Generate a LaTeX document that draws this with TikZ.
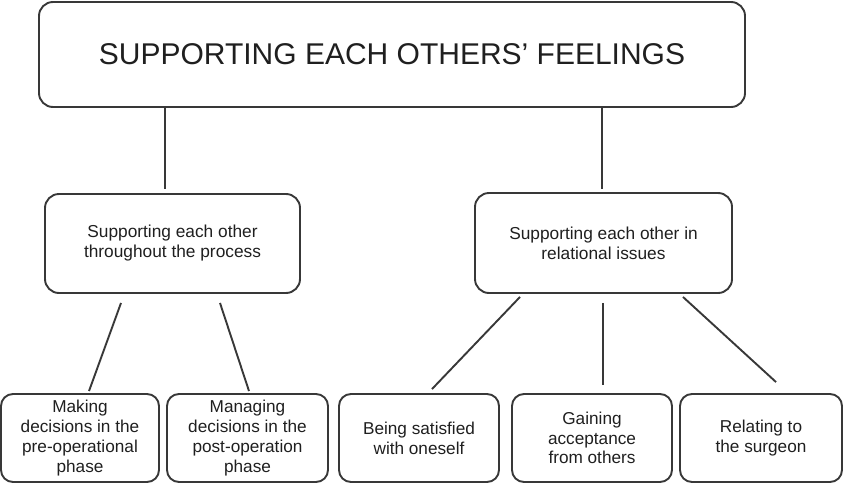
\documentclass[tikz,border=0pt]{standalone}
\usepackage{fontspec}
\setmainfont{Liberation Sans}
\begin{document}
\begin{tikzpicture}[x=1pt,y=-1pt,
  box/.style={draw=black!78, line width=1.9pt, rounded corners=14pt, inner sep=0pt, align=center, text=black!88},
  toptxt/.style={font=\fontsize{30}{34}\selectfont},
  midtxt/.style={font=\fontsize{17.3}{20}\selectfont},
  lowtxt/.style={font=\fontsize{17.2}{19.8}\selectfont, rounded corners=12pt},
  link/.style={draw=black!78, line width=1.9pt}]
\useasboundingbox (0,0) rectangle (854,490);
\node[box, toptxt, minimum width=706pt, minimum height=105pt] (top) at (392,54.5) {SUPPORTING EACH OTHERS’ FEELINGS};
\node[box, midtxt, minimum width=255pt, minimum height=99pt] (ml) at (172.5,243.5) {Supporting each other\\throughout the process};
\node[box, midtxt, minimum width=257pt, minimum height=100pt] (mr) at (603.5,243) {Supporting each other in\\relational issues};
\node[box, lowtxt, minimum width=158pt, minimum height=88pt] (b1) at (80,438) {Making\\decisions in the\\pre-operational\\phase};
\node[box, lowtxt, minimum width=161pt, minimum height=88pt] (b2) at (247.5,438) {Managing\\decisions in the\\post-operation\\phase};
\node[box, lowtxt, minimum width=160pt, minimum height=88pt] (b3) at (419,438) {Being satisfied\\with oneself};
\node[box, lowtxt, minimum width=160pt, minimum height=88pt] (b4) at (592,438) {Gaining\\acceptance\\from others};
\node[box, lowtxt, minimum width=162pt, minimum height=88pt] (b5) at (761,438) {Relating to\\the surgeon};
\draw[link] ([shift={(-7.5,0)}]top.south -| ml.north) -- ([shift={(-7.5,-4)}]ml.north);
\draw[link] ([shift={(-1.5,0)}]top.south -| mr.north) -- ([shift={(-1.5,-3)}]mr.north);
\draw[link] ([shift={(-51.5,9)}]ml.south) -- ([shift={(9,-2)}]b1.north);
\draw[link] ([shift={(47.5,9)}]ml.south) -- ([shift={(1.5,-2)}]b2.north);
\draw[link] ([shift={(-83.5,3)}]mr.south) -- ([shift={(13,-4)}]b3.north);
\draw[link] ([shift={(-0.5,9)}]mr.south) -- ([shift={(11,-8)}]b4.north);
\draw[link] ([shift={(79.5,3)}]mr.south) -- ([shift={(15,-11)}]b5.north);
\end{tikzpicture}
\end{document}
